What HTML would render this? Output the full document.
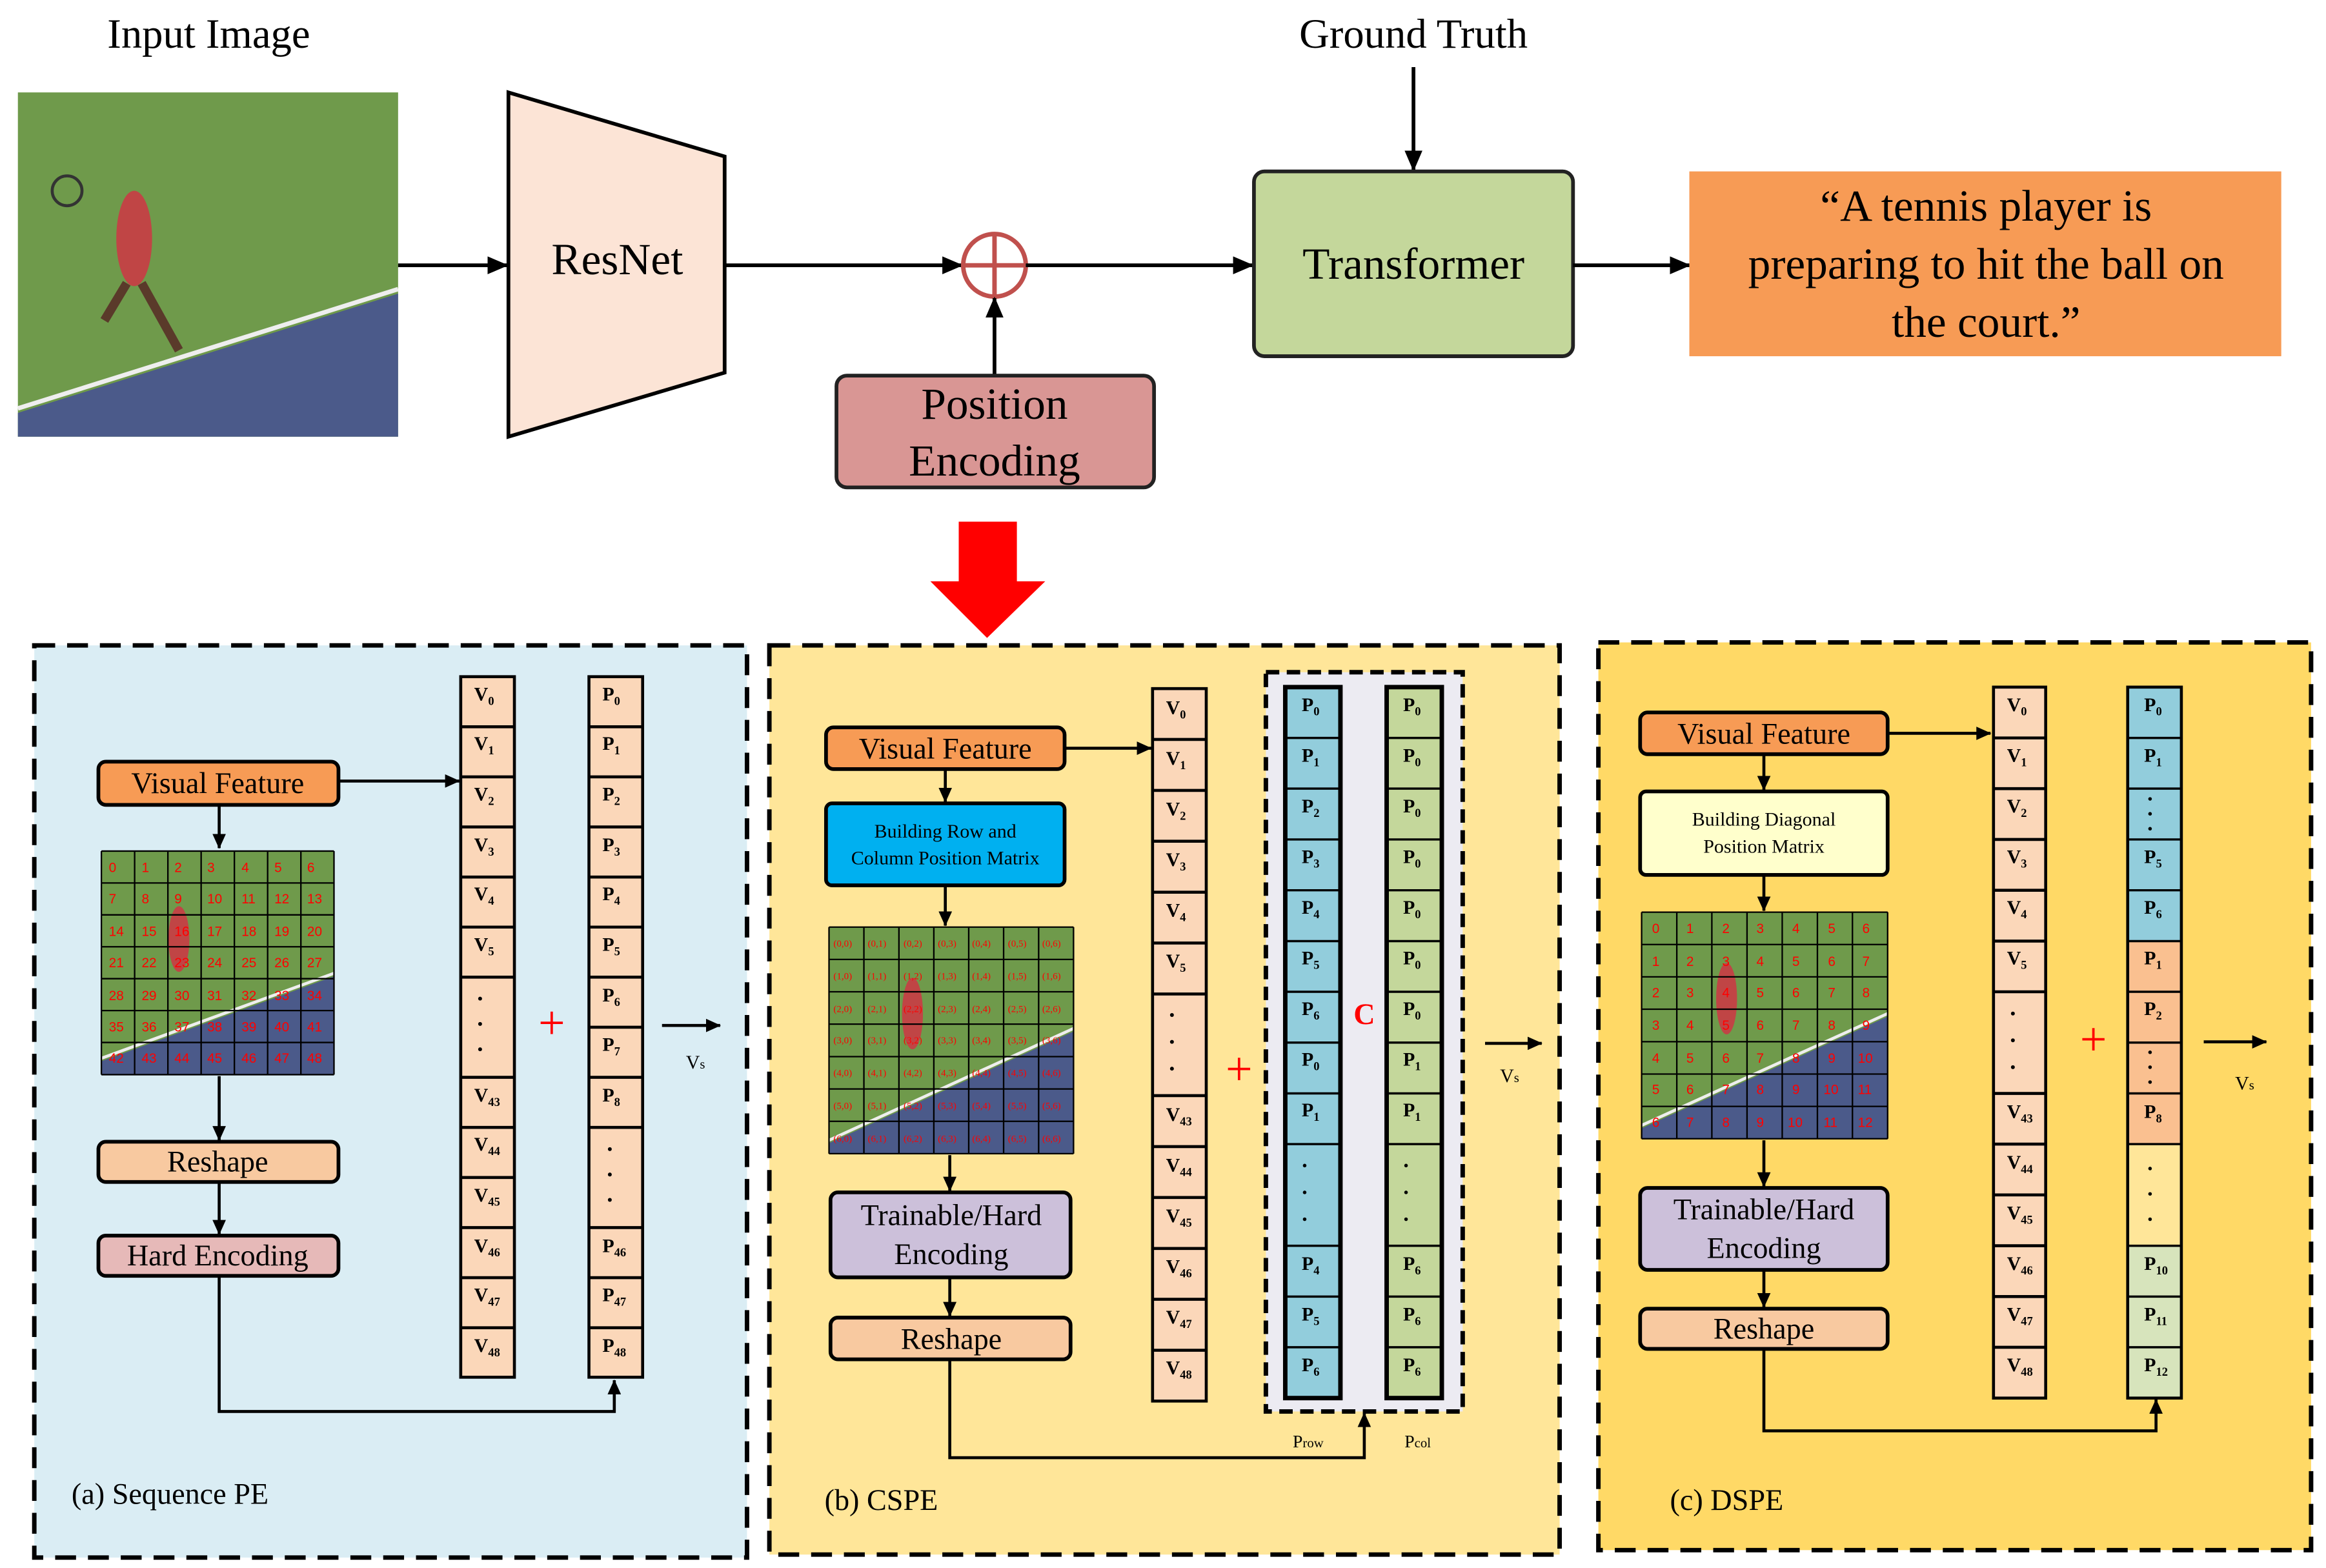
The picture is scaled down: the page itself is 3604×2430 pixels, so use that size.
<!DOCTYPE html>
<html><head><meta charset="utf-8"><style>html,body{margin:0;padding:0;background:#fff}svg{display:block}</style></head>
<body>
<svg width="3604" height="2430" viewBox="0 0 1560 1052" preserveAspectRatio="none" xmlns="http://www.w3.org/2000/svg" font-family="Liberation Serif, serif">
<defs>
<marker id="ah" markerUnits="userSpaceOnUse" markerWidth="14" markerHeight="12" refX="13" refY="6" orient="auto"><path d="M0,0 L14,6 L0,12 Z" fill="#000"/></marker>
<marker id="as" markerUnits="userSpaceOnUse" markerWidth="10" markerHeight="9" refX="9.5" refY="4.5" orient="auto"><path d="M0,0 L10,4.5 L0,9 Z" fill="#000"/></marker>
</defs>
<rect width="1560" height="1052" fill="#fff"/>

<!-- TOP -->
<text x="140" y="32" font-size="28" text-anchor="middle">Input Image</text>
<rect x="12" y="62" width="255" height="231" fill="#6f9a4b"/>
<polygon points="12,277 267,197 267,293 12,293" fill="#4b5a8a"/>
<line x1="12" y1="274" x2="267" y2="194" stroke="#eee" stroke-width="3"/>
<ellipse cx="90" cy="160" rx="12" ry="32" fill="#c04545"/>
<path d="M85,190 L70,215 M95,190 L120,235" stroke="#5a3a2a" stroke-width="6"/>
<circle cx="45" cy="128" r="10" fill="none" stroke="#333" stroke-width="2"/>
<line x1="267" y1="178" x2="340" y2="178" stroke="#000" stroke-width="2.5" marker-end="url(#ah)"/>
<polygon points="341,62 486,105 486,250 341,293" fill="#fce4d6" stroke="#000" stroke-width="2.5"/>
<text x="414" y="184" font-size="30" text-anchor="middle">ResNet</text>
<line x1="486" y1="178" x2="645" y2="178" stroke="#000" stroke-width="2.5" marker-end="url(#ah)"/>
<circle cx="667" cy="178" r="21" fill="none" stroke="#c0504d" stroke-width="3"/>
<line x1="646" y1="178" x2="688" y2="178" stroke="#c0504d" stroke-width="3"/>
<line x1="667" y1="157" x2="667" y2="199" stroke="#c0504d" stroke-width="3"/>
<line x1="688" y1="178" x2="840" y2="178" stroke="#000" stroke-width="2.5" marker-end="url(#ah)"/>
<line x1="667" y1="252" x2="667" y2="200" stroke="#000" stroke-width="2.5" marker-end="url(#ah)"/>
<rect x="561" y="252" width="213" height="75" rx="7" fill="#d99694" stroke="#222" stroke-width="2.5"/>
<text x="667" y="281" font-size="30" text-anchor="middle">Position</text>
<text x="667" y="319" font-size="30" text-anchor="middle">Encoding</text>
<text x="948" y="32" font-size="28" text-anchor="middle">Ground Truth</text>
<line x1="948" y1="45" x2="948" y2="114" stroke="#000" stroke-width="2.5" marker-end="url(#ah)"/>
<rect x="841" y="115" width="214" height="124" rx="7" fill="#c4d79b" stroke="#222" stroke-width="2.5"/>
<text x="948" y="187" font-size="30" text-anchor="middle">Transformer</text>
<line x1="1055" y1="178" x2="1133" y2="178" stroke="#000" stroke-width="2.5" marker-end="url(#ah)"/>
<rect x="1133" y="115" width="397" height="124" fill="#f79b55"/>
<text x="1332" y="148" font-size="30" text-anchor="middle">“A tennis player is</text>
<text x="1332" y="187" font-size="30" text-anchor="middle">preparing to hit the ball on</text>
<text x="1332" y="226" font-size="30" text-anchor="middle">the court.”</text>
<rect x="643" y="350" width="39" height="42" fill="#ff0000"/>
<polygon points="624,390 701,390 662,428" fill="#ff0000"/>

<!-- PANELS -->
<rect x="23" y="433" width="478" height="612" fill="#daedf4" stroke="#000" stroke-width="3" stroke-dasharray="14,8"/>
<rect x="516" y="433" width="530" height="610" fill="#ffe699" stroke="#000" stroke-width="3" stroke-dasharray="14,8"/>
<rect x="1072" y="431" width="478" height="609" fill="#ffd966" stroke="#000" stroke-width="3" stroke-dasharray="14,8"/>

<g stroke="#000" stroke-width="2" fill="none">
<!-- panel a arrows -->
<line x1="227" y1="524" x2="308" y2="524" marker-end="url(#as)"/>
<line x1="147" y1="540" x2="147" y2="569" marker-end="url(#as)"/>
<line x1="147" y1="722" x2="147" y2="765" marker-end="url(#as)"/>
<line x1="147" y1="793" x2="147" y2="828" marker-end="url(#as)"/>
<polyline points="147,856 147,947 412,947 412,926" marker-end="url(#as)"/>
<line x1="444" y1="688" x2="483" y2="688" marker-end="url(#as)"/>
<!-- panel b arrows -->
<line x1="714" y1="502" x2="772" y2="502" marker-end="url(#as)"/>
<line x1="634" y1="516" x2="634" y2="538" marker-end="url(#as)"/>
<line x1="634" y1="594" x2="634" y2="621" marker-end="url(#as)"/>
<line x1="637" y1="775" x2="637" y2="799" marker-end="url(#as)"/>
<line x1="637" y1="857" x2="637" y2="883" marker-end="url(#as)"/>
<polyline points="637,912 637,978 915,978 915,948" marker-end="url(#as)"/>
<line x1="996" y1="700" x2="1034" y2="700" marker-end="url(#as)"/>
<!-- panel c arrows -->
<line x1="1266" y1="492" x2="1335" y2="492" marker-end="url(#as)"/>
<line x1="1183" y1="506" x2="1183" y2="530" marker-end="url(#as)"/>
<line x1="1183" y1="587" x2="1183" y2="611" marker-end="url(#as)"/>
<line x1="1183" y1="765" x2="1183" y2="796" marker-end="url(#as)"/>
<line x1="1183" y1="852" x2="1183" y2="877" marker-end="url(#as)"/>
<polyline points="1183,905 1183,960 1446,960 1446,939" marker-end="url(#as)"/>
<line x1="1478" y1="699" x2="1520" y2="699" marker-end="url(#as)"/>
</g>

<!-- panel a boxes -->
<rect x="66" y="511" width="161" height="29" rx="5" fill="#f79b55" stroke="#000" stroke-width="2.5"/>
<text x="146" y="532" font-size="20" text-anchor="middle">Visual Feature</text>
<rect x="66" y="766" width="161" height="27" rx="5" fill="#f8c9a0" stroke="#000" stroke-width="2.5"/>
<text x="146" y="786" font-size="20" text-anchor="middle">Reshape</text>
<rect x="66" y="829" width="161" height="27" rx="5" fill="#e6b9b8" stroke="#000" stroke-width="2.5"/>
<text x="146" y="849" font-size="20" text-anchor="middle">Hard Encoding</text>
<text x="48" y="1009" font-size="20">(a)  Sequence PE</text>
<text x="370" y="697" font-size="32" fill="#ff0000" text-anchor="middle">+</text>
<text x="460" y="717" font-size="13">V<tspan font-size="9">s</tspan></text>

<!-- grid a -->
<rect x="68" y="571" width="156" height="150" fill="#6f9a4b"/>
<polygon points="68,712 224,655 224,721 68,721" fill="#4b5a8a"/>
<line x1="68" y1="710" x2="224" y2="653" stroke="#eee" stroke-width="2"/>
<ellipse cx="120" cy="630" rx="7" ry="22" fill="#c04545"/>
<path d="M68,571V721M90.3,571V721M112.6,571V721M134.9,571V721M157.2,571V721M179.5,571V721M201.8,571V721M224,571V721M68,571H224M68,592.4H224M68,613.8H224M68,635.2H224M68,656.6H224M68,678H224M68,699.4H224M68,721H224" stroke="#000" stroke-width="1" fill="none"/>
<g font-family="Liberation Sans, sans-serif" font-size="9" fill="#ff0000">
<text x="73" y="585">0</text><text x="95" y="585">1</text><text x="117" y="585">2</text><text x="139" y="585">3</text><text x="162" y="585">4</text><text x="184" y="585">5</text><text x="206" y="585">6</text>
<text x="73" y="606">7</text><text x="95" y="606">8</text><text x="117" y="606">9</text><text x="139" y="606">10</text><text x="162" y="606">11</text><text x="184" y="606">12</text><text x="206" y="606">13</text>
<text x="73" y="628">14</text><text x="95" y="628">15</text><text x="117" y="628">16</text><text x="139" y="628">17</text><text x="162" y="628">18</text><text x="184" y="628">19</text><text x="206" y="628">20</text>
<text x="73" y="649">21</text><text x="95" y="649">22</text><text x="117" y="649">23</text><text x="139" y="649">24</text><text x="162" y="649">25</text><text x="184" y="649">26</text><text x="206" y="649">27</text>
<text x="73" y="671">28</text><text x="95" y="671">29</text><text x="117" y="671">30</text><text x="139" y="671">31</text><text x="162" y="671">32</text><text x="184" y="671">33</text><text x="206" y="671">34</text>
<text x="73" y="692">35</text><text x="95" y="692">36</text><text x="117" y="692">37</text><text x="139" y="692">38</text><text x="162" y="692">39</text><text x="184" y="692">40</text><text x="206" y="692">41</text>
<text x="73" y="713">42</text><text x="95" y="713">43</text><text x="117" y="713">44</text><text x="139" y="713">45</text><text x="162" y="713">46</text><text x="184" y="713">47</text><text x="206" y="713">48</text>
</g>

<!-- columns panel a -->
<g stroke="#000" stroke-width="2" fill="#fbd7b9">
<rect x="309" y="454" width="36" height="470"/>
<rect x="395" y="454" width="36" height="470"/>
</g>
<path d="M309,487.6H345M309,521.2H345M309,554.8H345M309,588.4H345M309,622H345M309,655.6H345M309,722.8H345M309,756.4H345M309,790H345M309,823.6H345M309,857.2H345M309,890.8H345M395,487.6H431M395,521.2H431M395,554.8H431M395,588.4H431M395,622H431M395,655.6H431M395,689.2H431M395,722.8H431M395,756.4H431M395,823.6H431M395,857.2H431M395,890.8H431" stroke="#000" stroke-width="2"/>
<g font-size="13" font-weight="bold">
<text x="318" y="470">V<tspan font-size="8" dy="3">0</tspan></text>
<text x="318" y="503">V<tspan font-size="8" dy="3">1</tspan></text>
<text x="318" y="537">V<tspan font-size="8" dy="3">2</tspan></text>
<text x="318" y="571">V<tspan font-size="8" dy="3">3</tspan></text>
<text x="318" y="604">V<tspan font-size="8" dy="3">4</tspan></text>
<text x="318" y="638">V<tspan font-size="8" dy="3">5</tspan></text>
<text x="318" y="739">V<tspan font-size="8" dy="3">43</tspan></text>
<text x="318" y="772">V<tspan font-size="8" dy="3">44</tspan></text>
<text x="318" y="806">V<tspan font-size="8" dy="3">45</tspan></text>
<text x="318" y="840">V<tspan font-size="8" dy="3">46</tspan></text>
<text x="318" y="873">V<tspan font-size="8" dy="3">47</tspan></text>
<text x="318" y="907">V<tspan font-size="8" dy="3">48</tspan></text>
<text x="404" y="470">P<tspan font-size="8" dy="3">0</tspan></text>
<text x="404" y="503">P<tspan font-size="8" dy="3">1</tspan></text>
<text x="404" y="537">P<tspan font-size="8" dy="3">2</tspan></text>
<text x="404" y="571">P<tspan font-size="8" dy="3">3</tspan></text>
<text x="404" y="604">P<tspan font-size="8" dy="3">4</tspan></text>
<text x="404" y="638">P<tspan font-size="8" dy="3">5</tspan></text>
<text x="404" y="672">P<tspan font-size="8" dy="3">6</tspan></text>
<text x="404" y="705">P<tspan font-size="8" dy="3">7</tspan></text>
<text x="404" y="739">P<tspan font-size="8" dy="3">8</tspan></text>
<text x="404" y="840">P<tspan font-size="8" dy="3">46</tspan></text>
<text x="404" y="873">P<tspan font-size="8" dy="3">47</tspan></text>
<text x="404" y="907">P<tspan font-size="8" dy="3">48</tspan></text>
</g>
<g fill="#000"><circle cx="322" cy="670" r="1.3"/><circle cx="322" cy="687" r="1.3"/><circle cx="322" cy="704" r="1.3"/><circle cx="409" cy="771" r="1.3"/><circle cx="409" cy="788" r="1.3"/><circle cx="409" cy="805" r="1.3"/></g>

<!-- panel b -->
<rect x="554" y="488" width="160" height="28" rx="5" fill="#f79b55" stroke="#000" stroke-width="2.5"/>
<text x="634" y="509" font-size="20" text-anchor="middle">Visual Feature</text>
<rect x="554" y="539" width="160" height="55" rx="4" fill="#00b0f0" stroke="#000" stroke-width="2.5"/>
<text x="634" y="562" font-size="13" text-anchor="middle">Building Row and</text>
<text x="634" y="580" font-size="13" text-anchor="middle">Column Position Matrix</text>
<rect x="557" y="800" width="161" height="57" rx="5" fill="#ccc0da" stroke="#000" stroke-width="2.5"/>
<text x="638" y="822" font-size="20" text-anchor="middle">Trainable/Hard</text>
<text x="638" y="848" font-size="20" text-anchor="middle">Encoding</text>
<rect x="557" y="884" width="161" height="28" rx="5" fill="#f8c9a0" stroke="#000" stroke-width="2.5"/>
<text x="638" y="905" font-size="20" text-anchor="middle">Reshape</text>
<text x="553" y="1013" font-size="20">(b)  CSPE</text>
<text x="831" y="728" font-size="32" fill="#ff0000" text-anchor="middle">+</text>
<text x="1006" y="726" font-size="13">V<tspan font-size="9">s</tspan></text>

<!-- grid b -->
<rect x="556" y="622" width="164" height="152" fill="#6f9a4b"/>
<polygon points="556,767 720,692 720,774 556,774" fill="#4b5a8a"/>
<line x1="556" y1="765" x2="720" y2="690" stroke="#eee" stroke-width="2"/>
<ellipse cx="612" cy="680" rx="7" ry="24" fill="#c04545"/>
<path d="M556,622V774M579.4,622V774M602.9,622V774M626.3,622V774M649.7,622V774M673.1,622V774M696.6,622V774M720,622V774M556,622H720M556,643.7H720M556,665.4H720M556,687.1H720M556,708.9H720M556,730.6H720M556,752.3H720M556,774H720" stroke="#000" stroke-width="1" fill="none"/>
<g font-size="6.5" fill="#ff0000">
<text x="559" y="635">(0,0)</text><text x="582" y="635">(0,1)</text><text x="606" y="635">(0,2)</text><text x="629" y="635">(0,3)</text><text x="652" y="635">(0,4)</text><text x="676" y="635">(0,5)</text><text x="699" y="635">(0,6)</text>
<text x="559" y="657">(1,0)</text><text x="582" y="657">(1,1)</text><text x="606" y="657">(1,2)</text><text x="629" y="657">(1,3)</text><text x="652" y="657">(1,4)</text><text x="676" y="657">(1,5)</text><text x="699" y="657">(1,6)</text>
<text x="559" y="679">(2,0)</text><text x="582" y="679">(2,1)</text><text x="606" y="679">(2,2)</text><text x="629" y="679">(2,3)</text><text x="652" y="679">(2,4)</text><text x="676" y="679">(2,5)</text><text x="699" y="679">(2,6)</text>
<text x="559" y="700">(3,0)</text><text x="582" y="700">(3,1)</text><text x="606" y="700">(3,2)</text><text x="629" y="700">(3,3)</text><text x="652" y="700">(3,4)</text><text x="676" y="700">(3,5)</text><text x="699" y="700">(3,6)</text>
<text x="559" y="722">(4,0)</text><text x="582" y="722">(4,1)</text><text x="606" y="722">(4,2)</text><text x="629" y="722">(4,3)</text><text x="652" y="722">(4,4)</text><text x="676" y="722">(4,5)</text><text x="699" y="722">(4,6)</text>
<text x="559" y="744">(5,0)</text><text x="582" y="744">(5,1)</text><text x="606" y="744">(5,2)</text><text x="629" y="744">(5,3)</text><text x="652" y="744">(5,4)</text><text x="676" y="744">(5,5)</text><text x="699" y="744">(5,6)</text>
<text x="559" y="766">(6,0)</text><text x="582" y="766">(6,1)</text><text x="606" y="766">(6,2)</text><text x="629" y="766">(6,3)</text><text x="652" y="766">(6,4)</text><text x="676" y="766">(6,5)</text><text x="699" y="766">(6,6)</text>
</g>

<!-- columns panel b -->
<rect x="773" y="462" width="36" height="478" fill="#fbd7b9" stroke="#000" stroke-width="2"/>
<path d="M773,496.1H809M773,530.3H809M773,564.4H809M773,598.6H809M773,632.7H809M773,666.9H809M773,735.1H809M773,769.3H809M773,803.4H809M773,837.6H809M773,871.7H809M773,905.9H809" stroke="#000" stroke-width="2"/>
<g font-size="13" font-weight="bold">
<text x="782" y="479">V<tspan font-size="8" dy="3">0</tspan></text>
<text x="782" y="513">V<tspan font-size="8" dy="3">1</tspan></text>
<text x="782" y="547">V<tspan font-size="8" dy="3">2</tspan></text>
<text x="782" y="581">V<tspan font-size="8" dy="3">3</tspan></text>
<text x="782" y="615">V<tspan font-size="8" dy="3">4</tspan></text>
<text x="782" y="649">V<tspan font-size="8" dy="3">5</tspan></text>
<text x="782" y="752">V<tspan font-size="8" dy="3">43</tspan></text>
<text x="782" y="786">V<tspan font-size="8" dy="3">44</tspan></text>
<text x="782" y="820">V<tspan font-size="8" dy="3">45</tspan></text>
<text x="782" y="854">V<tspan font-size="8" dy="3">46</tspan></text>
<text x="782" y="888">V<tspan font-size="8" dy="3">47</tspan></text>
<text x="782" y="922">V<tspan font-size="8" dy="3">48</tspan></text>
</g>
<g fill="#000"><circle cx="786" cy="681" r="1.3"/><circle cx="786" cy="699" r="1.3"/><circle cx="786" cy="717" r="1.3"/></g>

<rect x="849" y="451" width="132" height="496" fill="#ecebf2" stroke="#000" stroke-width="3" stroke-dasharray="9,5"/>
<rect x="862" y="461" width="37" height="477" fill="#92cddc" stroke="#000" stroke-width="3"/>
<rect x="930" y="461" width="37" height="477" fill="#c4d79b" stroke="#000" stroke-width="3"/>
<path d="M862,495.1H899M862,529.1H899M862,563.2H899M862,597.3H899M862,631.4H899M862,665.4H899M862,699.5H899M862,733.6H899M862,767.6H899M862,835.8H899M862,869.9H899M862,903.9H899M930,495.1H967M930,529.1H967M930,563.2H967M930,597.3H967M930,631.4H967M930,665.4H967M930,699.5H967M930,733.6H967M930,767.6H967M930,835.8H967M930,869.9H967M930,903.9H967" stroke="#000" stroke-width="1.5"/>
<g font-size="13" font-weight="bold">
<text x="873" y="477">P<tspan font-size="8" dy="3">0</tspan></text>
<text x="873" y="511">P<tspan font-size="8" dy="3">1</tspan></text>
<text x="873" y="545">P<tspan font-size="8" dy="3">2</tspan></text>
<text x="873" y="579">P<tspan font-size="8" dy="3">3</tspan></text>
<text x="873" y="613">P<tspan font-size="8" dy="3">4</tspan></text>
<text x="873" y="647">P<tspan font-size="8" dy="3">5</tspan></text>
<text x="873" y="681">P<tspan font-size="8" dy="3">6</tspan></text>
<text x="873" y="715">P<tspan font-size="8" dy="3">0</tspan></text>
<text x="873" y="749">P<tspan font-size="8" dy="3">1</tspan></text>
<text x="873" y="852">P<tspan font-size="8" dy="3">4</tspan></text>
<text x="873" y="886">P<tspan font-size="8" dy="3">5</tspan></text>
<text x="873" y="920">P<tspan font-size="8" dy="3">6</tspan></text>
<text x="941" y="477">P<tspan font-size="8" dy="3">0</tspan></text>
<text x="941" y="511">P<tspan font-size="8" dy="3">0</tspan></text>
<text x="941" y="545">P<tspan font-size="8" dy="3">0</tspan></text>
<text x="941" y="579">P<tspan font-size="8" dy="3">0</tspan></text>
<text x="941" y="613">P<tspan font-size="8" dy="3">0</tspan></text>
<text x="941" y="647">P<tspan font-size="8" dy="3">0</tspan></text>
<text x="941" y="681">P<tspan font-size="8" dy="3">0</tspan></text>
<text x="941" y="715">P<tspan font-size="8" dy="3">1</tspan></text>
<text x="941" y="749">P<tspan font-size="8" dy="3">1</tspan></text>
<text x="941" y="852">P<tspan font-size="8" dy="3">6</tspan></text>
<text x="941" y="886">P<tspan font-size="8" dy="3">6</tspan></text>
<text x="941" y="920">P<tspan font-size="8" dy="3">6</tspan></text>
</g>
<g fill="#000"><circle cx="875" cy="782" r="1.2"/><circle cx="875" cy="800" r="1.2"/><circle cx="875" cy="818" r="1.2"/><circle cx="943" cy="782" r="1.2"/><circle cx="943" cy="800" r="1.2"/><circle cx="943" cy="818" r="1.2"/></g>
<text x="915" y="687" font-size="20" font-weight="bold" fill="#ff0000" text-anchor="middle">C</text>
<text x="867" y="971" font-size="12">P<tspan font-size="9">row</tspan></text>
<text x="942" y="971" font-size="12">P<tspan font-size="9">col</tspan></text>

<!-- panel c -->
<rect x="1100" y="478" width="166" height="28" rx="5" fill="#f79b55" stroke="#000" stroke-width="2.5"/>
<text x="1183" y="499" font-size="20" text-anchor="middle">Visual Feature</text>
<rect x="1100" y="531" width="166" height="56" rx="4" fill="#ffffcc" stroke="#000" stroke-width="2.5"/>
<text x="1183" y="554" font-size="13" text-anchor="middle">Building Diagonal</text>
<text x="1183" y="572" font-size="13" text-anchor="middle">Position Matrix</text>
<rect x="1100" y="797" width="166" height="55" rx="5" fill="#ccc0da" stroke="#000" stroke-width="2.5"/>
<text x="1183" y="818" font-size="20" text-anchor="middle">Trainable/Hard</text>
<text x="1183" y="844" font-size="20" text-anchor="middle">Encoding</text>
<rect x="1100" y="878" width="166" height="27" rx="5" fill="#f8c9a0" stroke="#000" stroke-width="2.5"/>
<text x="1183" y="898" font-size="20" text-anchor="middle">Reshape</text>
<text x="1120" y="1013" font-size="20">(c)  DSPE</text>
<text x="1404" y="708" font-size="32" fill="#ff0000" text-anchor="middle">+</text>
<text x="1499" y="731" font-size="13">V<tspan font-size="9">s</tspan></text>

<!-- grid c -->
<rect x="1101" y="612" width="165" height="152" fill="#6f9a4b"/>
<polygon points="1101,757 1266,682 1266,764 1101,764" fill="#4b5a8a"/>
<line x1="1101" y1="755" x2="1266" y2="680" stroke="#eee" stroke-width="2"/>
<ellipse cx="1158" cy="670" rx="7" ry="24" fill="#c04545"/>
<path d="M1101,612V764M1124.6,612V764M1148.1,612V764M1171.7,612V764M1195.3,612V764M1218.9,612V764M1242.4,612V764M1266,612V764M1101,612H1266M1101,633.7H1266M1101,655.4H1266M1101,677.1H1266M1101,698.9H1266M1101,720.6H1266M1101,742.3H1266M1101,764H1266" stroke="#000" stroke-width="1" fill="none"/>
<g font-family="Liberation Sans, sans-serif" font-size="9" fill="#ff0000">
<text x="1108" y="626">0</text><text x="1131" y="626">1</text><text x="1155" y="626">2</text><text x="1178" y="626">3</text><text x="1202" y="626">4</text><text x="1226" y="626">5</text><text x="1249" y="626">6</text>
<text x="1108" y="648">1</text><text x="1131" y="648">2</text><text x="1155" y="648">3</text><text x="1178" y="648">4</text><text x="1202" y="648">5</text><text x="1226" y="648">6</text><text x="1249" y="648">7</text>
<text x="1108" y="669">2</text><text x="1131" y="669">3</text><text x="1155" y="669">4</text><text x="1178" y="669">5</text><text x="1202" y="669">6</text><text x="1226" y="669">7</text><text x="1249" y="669">8</text>
<text x="1108" y="691">3</text><text x="1131" y="691">4</text><text x="1155" y="691">5</text><text x="1178" y="691">6</text><text x="1202" y="691">7</text><text x="1226" y="691">8</text><text x="1249" y="691">9</text>
<text x="1108" y="713">4</text><text x="1131" y="713">5</text><text x="1155" y="713">6</text><text x="1178" y="713">7</text><text x="1202" y="713">8</text><text x="1226" y="713">9</text><text x="1246" y="713">10</text>
<text x="1108" y="734">5</text><text x="1131" y="734">6</text><text x="1155" y="734">7</text><text x="1178" y="734">8</text><text x="1202" y="734">9</text><text x="1223" y="734">10</text><text x="1246" y="734">11</text>
<text x="1108" y="756">6</text><text x="1131" y="756">7</text><text x="1155" y="756">8</text><text x="1178" y="756">9</text><text x="1199" y="756">10</text><text x="1223" y="756">11</text><text x="1246" y="756">12</text>
</g>

<!-- columns panel c -->
<rect x="1337" y="461" width="35" height="477" fill="#fbd7b9" stroke="#000" stroke-width="2"/>
<path d="M1337,495.1H1372M1337,529.1H1372M1337,563.2H1372M1337,597.3H1372M1337,631.4H1372M1337,665.4H1372M1337,733.6H1372M1337,767.6H1372M1337,801.7H1372M1337,835.8H1372M1337,869.9H1372M1337,903.9H1372" stroke="#000" stroke-width="2"/>
<g font-size="13" font-weight="bold">
<text x="1346" y="477">V<tspan font-size="8" dy="3">0</tspan></text>
<text x="1346" y="511">V<tspan font-size="8" dy="3">1</tspan></text>
<text x="1346" y="545">V<tspan font-size="8" dy="3">2</tspan></text>
<text x="1346" y="579">V<tspan font-size="8" dy="3">3</tspan></text>
<text x="1346" y="613">V<tspan font-size="8" dy="3">4</tspan></text>
<text x="1346" y="647">V<tspan font-size="8" dy="3">5</tspan></text>
<text x="1346" y="750">V<tspan font-size="8" dy="3">43</tspan></text>
<text x="1346" y="784">V<tspan font-size="8" dy="3">44</tspan></text>
<text x="1346" y="818">V<tspan font-size="8" dy="3">45</tspan></text>
<text x="1346" y="852">V<tspan font-size="8" dy="3">46</tspan></text>
<text x="1346" y="886">V<tspan font-size="8" dy="3">47</tspan></text>
<text x="1346" y="920">V<tspan font-size="8" dy="3">48</tspan></text>
</g>
<g fill="#000"><circle cx="1350" cy="680" r="1.3"/><circle cx="1350" cy="698" r="1.3"/><circle cx="1350" cy="716" r="1.3"/></g>

<rect x="1427" y="461" width="36" height="170" fill="#92cddc"/>
<rect x="1427" y="631" width="36" height="136" fill="#fac090"/>
<rect x="1427" y="767" width="36" height="69" fill="#ffe699"/>
<rect x="1427" y="836" width="36" height="102" fill="#d7e4bc"/>
<rect x="1427" y="461" width="36" height="477" fill="none" stroke="#000" stroke-width="2"/>
<path d="M1427,495.1H1463M1427,529.1H1463M1427,563.2H1463M1427,597.3H1463M1427,631.4H1463M1427,665.4H1463M1427,699.5H1463M1427,733.6H1463M1427,767.6H1463M1427,835.8H1463M1427,869.9H1463M1427,903.9H1463" stroke="#000" stroke-width="1.5"/>
<g font-size="13" font-weight="bold">
<text x="1438" y="477">P<tspan font-size="8" dy="3">0</tspan></text>
<text x="1438" y="511">P<tspan font-size="8" dy="3">1</tspan></text>
<text x="1438" y="579">P<tspan font-size="8" dy="3">5</tspan></text>
<text x="1438" y="613">P<tspan font-size="8" dy="3">6</tspan></text>
<text x="1438" y="647">P<tspan font-size="8" dy="3">1</tspan></text>
<text x="1438" y="681">P<tspan font-size="8" dy="3">2</tspan></text>
<text x="1438" y="750">P<tspan font-size="8" dy="3">8</tspan></text>
<text x="1438" y="852">P<tspan font-size="8" dy="3">10</tspan></text>
<text x="1438" y="886">P<tspan font-size="8" dy="3">11</tspan></text>
<text x="1438" y="920">P<tspan font-size="8" dy="3">12</tspan></text>
</g>
<g fill="#000"><circle cx="1442" cy="536" r="1.2"/><circle cx="1442" cy="546" r="1.2"/><circle cx="1442" cy="556" r="1.2"/><circle cx="1442" cy="706" r="1.2"/><circle cx="1442" cy="716" r="1.2"/><circle cx="1442" cy="726" r="1.2"/><circle cx="1442" cy="784" r="1.2"/><circle cx="1442" cy="801" r="1.2"/><circle cx="1442" cy="818" r="1.2"/></g>
</svg>
</body></html>
